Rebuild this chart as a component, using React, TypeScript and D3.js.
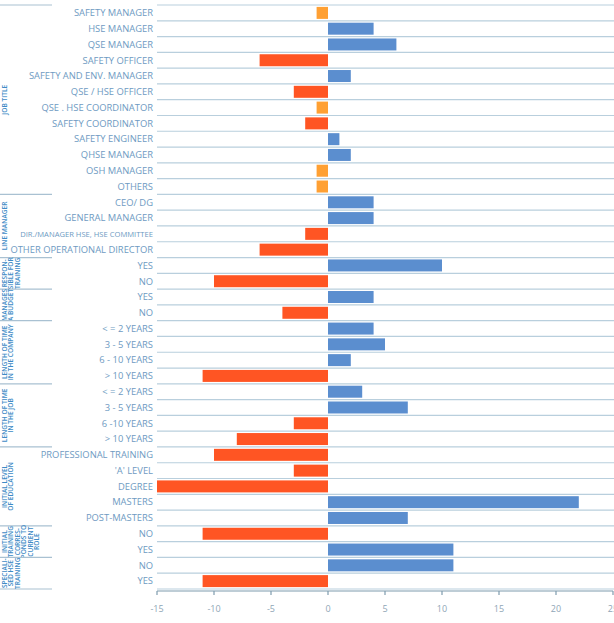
import React from "react";
import * as d3 from "d3";

const categories: string[] = [
  "SAFETY MANAGER", "HSE MANAGER", "QSE MANAGER", "SAFETY OFFICER", "SAFETY AND ENV. MANAGER",
  "QSE / HSE OFFICER", "QSE . HSE COORDINATOR", "SAFETY COORDINATOR", "SAFETY ENGINEER",
  "QHSE MANAGER", "OSH MANAGER", "OTHERS",
  "CEO/ DG", "GENERAL MANAGER", "DIR./MANAGER HSE, HSE COMMITTEE", "OTHER OPERATIONAL DIRECTOR",
  "YES", "NO",
  "YES", "NO",
  "< = 2 YEARS", "3 - 5 YEARS", "6 - 10 YEARS", "> 10 YEARS",
  "< = 2 YEARS", "3 - 5 YEARS", "6 -10 YEARS", "> 10 YEARS",
  "PROFESSIONAL TRAINING", "'A' LEVEL", "DEGREE", "MASTERS", "POST-MASTERS",
  "NO", "YES",
  "NO", "YES",
];

const values: number[] = [
  -1, 4, 6, -6, 2, -3, -1, -2, 1, 2, -1, -1,
  4, 4, -2, -6,
  10, -10,
  4, -4,
  4, 5, 2, -11,
  3, 7, -3, -8,
  -10, -3, -15, 22, 7,
  -11, 11,
  11, -11,
];

const groupSizes: number[] = [12, 4, 2, 2, 4, 4, 5, 2, 2];
const groupLabels: string[][] = [
  ["JOB TITLE"],
  ["LINE MANAGER"],
  ["RESPON-", "SIBLE FOR", "TRAINING"],
  ["MANAGES", "A BUDGET"],
  ["LENGTH OF TIME", "IN THE COMPANY"],
  ["LENGTH OF TIME", "IN THE JOB"],
  ["INITIAL LEVEL", "OF EDUCATION"],
  ["INITIAL", "TRAINING", "CORRES-", "PONDS TO", "CURRENT", "ROLE"],
  ["SPECIALI-", "SED HSE", "TRAINING"],
];

const xTicks: number[] = [-15, -10, -5, 0, 5, 10, 15, 20, 25];

const W = 614;
const H = 623;
const FONT = "'Open Sans', 'DejaVu Sans', sans-serif";

export default function App() {
  const x = d3.scaleLinear().domain([-15, 25]).range([157, 613]);
  const idx = categories.map((_, i) => String(i));
  const y = d3.scaleBand().domain(idx).range([5, 589]).paddingInner(0.24).paddingOuter(0.12);
  const step = y.step();
  const top = 5;
  const bottom = 589;
  const rowTop = (i: number) => top + i * ((bottom - top) / categories.length);

  const colorOf = (v: number) => (v >= 0 ? "#5B8ECF" : v === -1 ? "#FFA033" : "#FF5523");

  let acc = 0;
  const groupBounds = groupSizes.map((n) => {
    const s = acc;
    acc += n;
    return [s, acc];
  });

  return (
    <svg width={W} height={H} style={{ position: "absolute", left: 0, top: 0, background: "#fff" }}>
      {/* gridlines */}
      {d3.range(categories.length + 1).map((i) => (
        <line key={"g" + i} x1={157} x2={614} y1={rowTop(i)} y2={rowTop(i)} stroke="#B9CFDD" strokeWidth={1.2} />
      ))}
      {/* bars */}
      {values.map((v, i) => (
        <rect
          key={"b" + i}
          x={x(Math.min(0, v))}
          width={Math.abs(x(v) - x(0))}
          y={y(String(i))!}
          height={y.bandwidth()}
          fill={colorOf(v)}
        />
      ))}
      {/* category labels */}
      {categories.map((c, i) => (
        <text
          key={"c" + i}
          x={153}
          y={y(String(i))! + y.bandwidth() / 2}
          dy="0.35em"
          textAnchor="end"
          fontFamily={FONT}
          fontSize={c.length > 28 ? 7.6 : 9.4}
          fill="#6E9AC2"
        >
          {c}
        </text>
      ))}
      {/* group separators and labels */}
      {groupBounds.map(([s, e], gi) => {
        const y0 = rowTop(s);
        const y1 = rowTop(e);
        const cy = (y0 + y1) / 2;
        const lines = groupLabels[gi];
        const lh = 6.4;
        return (
          <g key={"grp" + gi}>
            <line x1={0} x2={52} y1={y0} y2={y0} stroke="#A9C1D2" strokeWidth={1.2} />
            {gi === groupBounds.length - 1 && (
              <line x1={0} x2={52} y1={y1} y2={y1} stroke="#A9C1D2" strokeWidth={1.2} />
            )}
            {lines.map((ln, li) => (
              <text
                key={li}
                transform={`translate(${7 + li * lh},${cy}) rotate(-90)`}
                textAnchor="middle"
                fontFamily={FONT}
                fontSize={6.6}
                fontWeight={600}
                fill="#3E8BC6"
              >
                {ln}
              </text>
            ))}
          </g>
        );
      })}
      {/* x axis */}
      <line x1={157} x2={613} y1={591} y2={591} stroke="#7E9BAD" strokeWidth={1.2} />
      {xTicks.map((t) => (
        <g key={"t" + t}>
          <line x1={x(t)} x2={x(t)} y1={591} y2={595} stroke="#7E9BAD" strokeWidth={1.2} />
          <text x={x(t)} y={612} textAnchor="middle" fontFamily={FONT} fontSize={9} fill="#8FA6B6">
            {t}
          </text>
        </g>
      ))}
    </svg>
  );
}
